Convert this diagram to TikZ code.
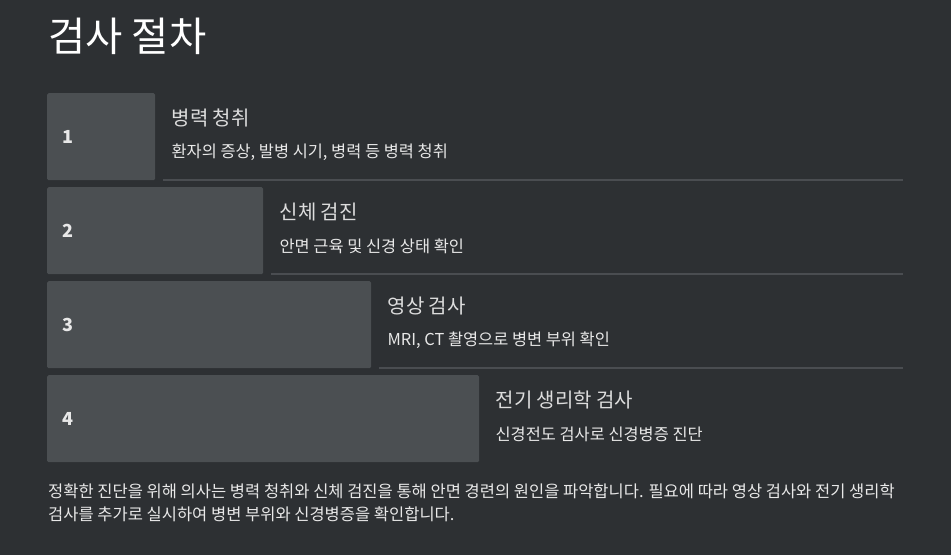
\documentclass[tikz,border=0pt]{standalone}
\usepackage{fontspec}
\setmainfont{Noto Sans CJK KR}
\usetikzlibrary{positioning}

\definecolor{bgc}{HTML}{2D3033}
\definecolor{boxc}{HTML}{4B4F52}
\definecolor{sepc}{HTML}{4A4D51}
\definecolor{txtc}{HTML}{E8E8E8}
\definecolor{headc}{HTML}{DDDDDD}

\begin{document}
\begin{tikzpicture}
  [
  x = 1pt, y = -1pt,
  % step boxes
  stepbox/.style = {rectangle, rounded corners = 1.5pt, fill = boxc,
    minimum height = 87pt, inner sep = 0pt, anchor = north west},
  % texts
  num/.style = {text = txtc, inner sep = 0pt,
    font = \fontsize{18}{21}\selectfont\bfseries},
  head/.style = {text = headc, inner sep = 0pt, yshift = 18.5pt,
    font = \fontsize{20}{24}\selectfont},
  desc/.style = {text = txtc, inner sep = 0pt, yshift = -15.5pt,
    font = \fontsize{16.4}{19}\selectfont},
  % line
  sep/.style = {draw = sepc, line width = 2pt},
  ]

  \fill [bgc] (0, 0) rectangle (951, 555);
  \useasboundingbox (0, 0) rectangle (951, 555);
  \coordinate (rx) at (903, 0);

  % nodes
  \node [text = white, inner sep = 0pt, anchor = west,
    font = \fontsize{40.5}{48}\selectfont] (title) at (48, 36) {검사 절차};

  \node [stepbox, minimum width = 108pt] (b1) at (47, 93) {};
  \node [stepbox, minimum width = 216pt] (b2) at (47, 187) {};
  \node [stepbox, minimum width = 324pt] (b3) at (47, 281) {};
  \node [stepbox, minimum width = 432pt] (b4) at (47, 375) {};

  \node [num, right = 15pt of b1.west] (n1) {1};
  \node [num, right = 15pt of b2.west] (n2) {2};
  \node [num, right = 15pt of b3.west] (n3) {3};
  \node [num, right = 15pt of b4.west] (n4) {4};

  \node [head, right = 16pt of b1.east] (h1) {병력 청취};
  \node [desc, right = 16pt of b1.east] (d1) {환자의 증상, 발병 시기, 병력 등 병력 청취};
  \node [head, right = 16pt of b2.east] (h2) {신체 검진};
  \node [desc, right = 16pt of b2.east] (d2) {안면 근육 및 신경 상태 확인};
  \node [head, right = 16pt of b3.east] (h3) {영상 검사};
  \node [desc, right = 16pt of b3.east] (d3) {MRI, CT 촬영으로 병변 부위 확인};
  \node [head, right = 16pt of b4.east] (h4) {전기 생리학 검사};
  \node [desc, right = 16pt of b4.east] (d4) {신경전도 검사로 신경병증 진단};

  \node [text = txtc, inner sep = 0pt, anchor = west, align = left,
    font = \fontsize{16.5}{23}\selectfont] (note) at (48, 502.5)
    {정확한 진단을 위해 의사는 병력 청취와 신체 검진을 통해 안면 경련의 원인을 파악합니다. 필요에 따라 영상 검사와 전기 생리학\\
     검사를 추가로 실시하여 병변 부위와 신경병증을 확인합니다.};

  % path
  \path [sep] ([xshift = 8pt]b1.south east) -- (b1.south east -| rx);
  \path [sep] ([xshift = 8pt]b2.south east) -- (b2.south east -| rx);
  \path [sep] ([xshift = 8pt]b3.south east) -- (b3.south east -| rx);

\end{tikzpicture}
\end{document}
